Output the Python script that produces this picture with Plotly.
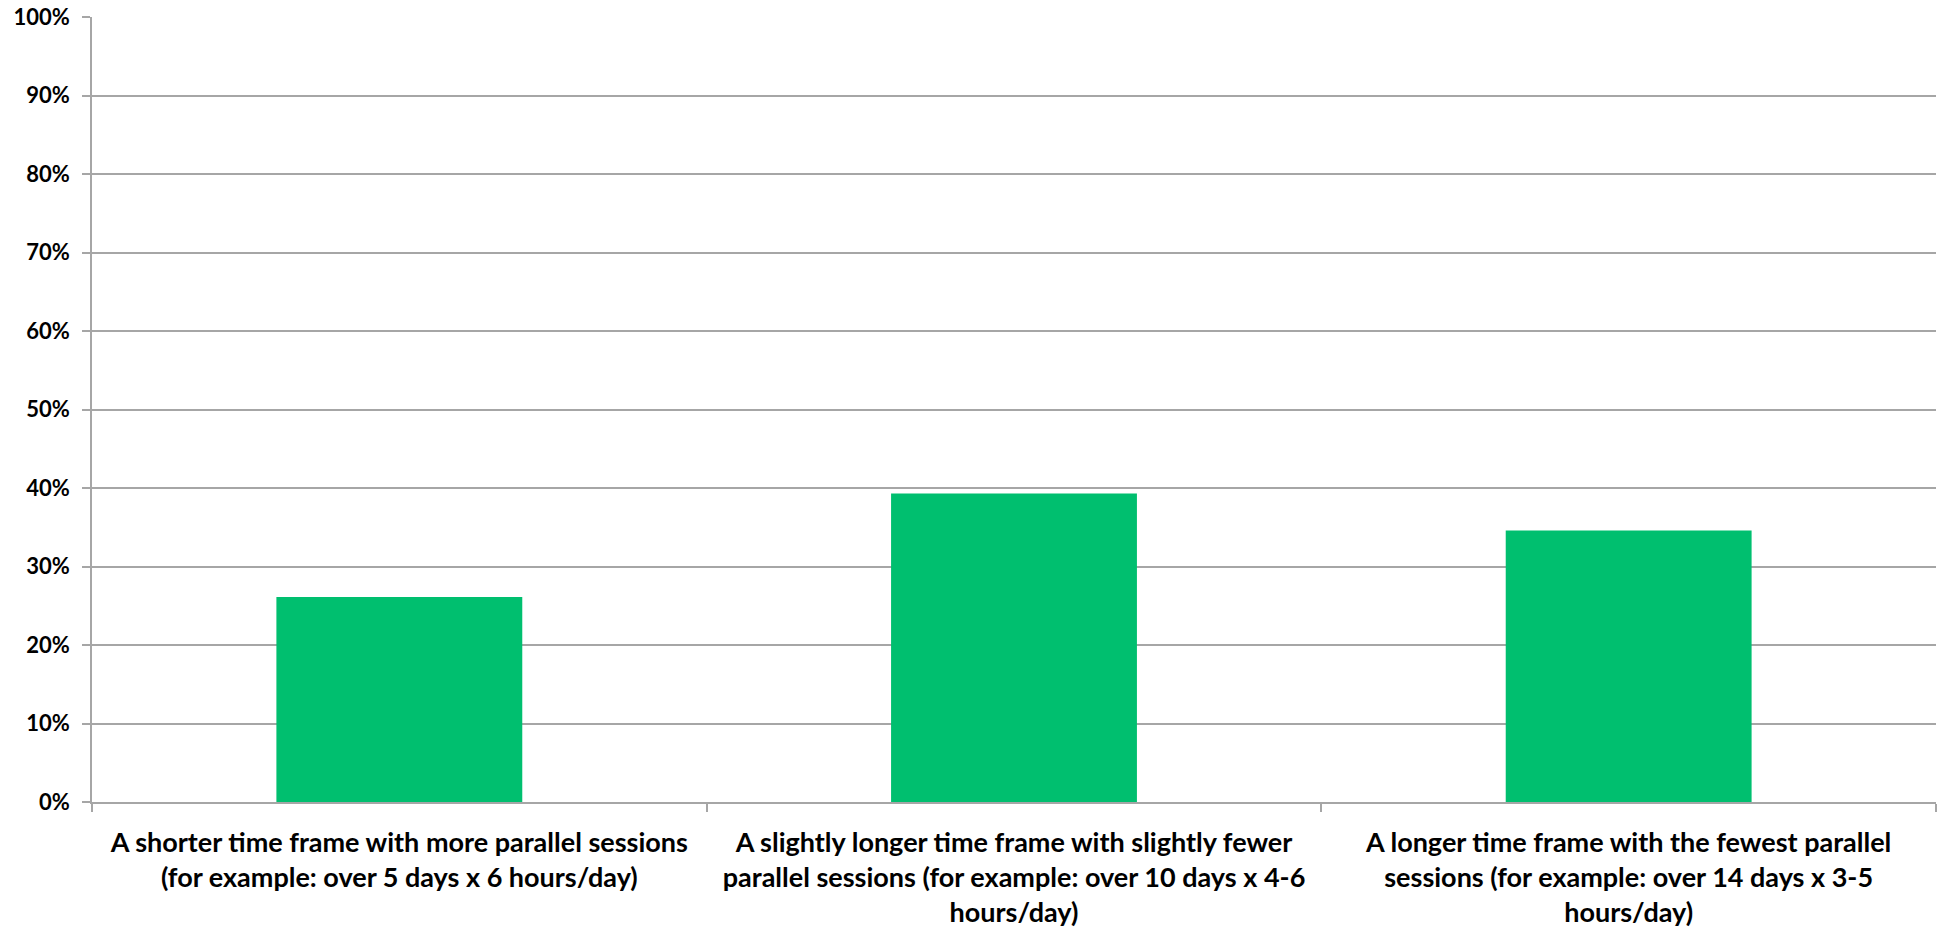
import plotly.graph_objects as go

# Survey responses: preferred event format
categories = [
    "A shorter time frame with more parallel sessions<br>(for example: over 5 days x 6 hours/day)",
    "A slightly longer time frame with slightly fewer<br>parallel sessions (for example: over 10 days x 4-6<br>hours/day)",
    "A longer time frame with the fewest parallel<br>sessions (for example: over 14 days x 3-5<br>hours/day)",
]
shares = [0.261, 0.393, 0.346]

BAR_GREEN = "#00BF6F"
GRID_GREY = "#A6A6A6"
FONT = "Lato, 'Open Sans', sans-serif"

fig = go.Figure(
    go.Bar(
        x=categories,
        y=shares,
        marker=dict(color=BAR_GREEN, line=dict(width=0)),
        width=0.4,
        hoverinfo="skip",
    )
)

fig.update_layout(
    width=1944,
    height=930,
    margin=dict(l=92, r=8, t=17, b=128),
    paper_bgcolor="white",
    plot_bgcolor="white",
    showlegend=False,
    font=dict(family=FONT, color="#000000"),
    bargap=0.6,
)

fig.update_yaxes(
    range=[0, 1],
    dtick=0.1,
    tickformat=".0%",
    showgrid=True,
    gridcolor=GRID_GREY,
    gridwidth=1.5,
    showline=True,
    linecolor=GRID_GREY,
    linewidth=1.5,
    ticks="outside",
    ticklen=8,
    tickcolor=GRID_GREY,
    tickwidth=1.5,
    tickfont=dict(family=FONT, size=22, color="#000000", weight="bold"),
    ticklabelstandoff=8,
    zeroline=False,
    automargin=False,
)

fig.update_xaxes(
    type="category",
    tickson="boundaries",
    ticks="outside",
    ticklen=8,
    tickcolor=GRID_GREY,
    tickwidth=1.5,
    showline=True,
    linecolor=GRID_GREY,
    linewidth=1.5,
    showgrid=False,
    tickfont=dict(family=FONT, size=27, color="#000000", weight="bold"),
    tickangle=0,
    ticklabelstandoff=16,
    automargin=False,
)

fig.write_html("out.html")
